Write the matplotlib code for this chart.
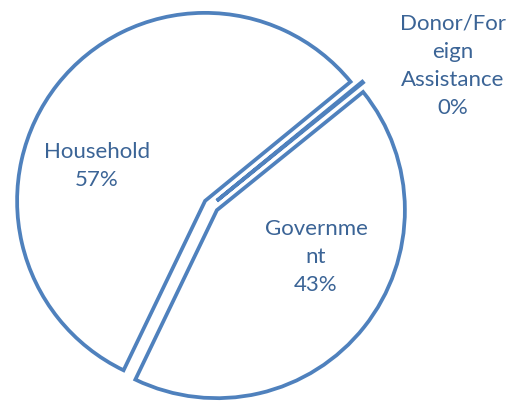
import matplotlib
matplotlib.use('Agg')
import matplotlib.pyplot as plt

# data
labels = ['Household', 'Donor/Foreign Assistance', 'Government']
values = [57, 0.1, 43]
# wrapped label text as shown in the chart
label_text = ['Household', 'Donor/For\neign\nAssistance', 'Governme\nnt']

W, H = 521, 401
edge_color = '#4F81BD'
text_color = '#3B6496'

plt.rcParams['font.family'] = ['Lato', 'DejaVu Sans']

fig = plt.figure(figsize=(W / 100, H / 100), dpi=100)
ax = fig.add_axes([0, 0, 1, 1])

radius = 188
center = (211, H - 205.5)
# explode offsets are in data units (pixels here)
ax.pie(values, radius=radius, center=center, explode=[7.5, 7.5, 7.5],
       startangle=244.3, counterclock=False,
       colors=['white'] * 3,
       wedgeprops=dict(edgecolor=edge_color, linewidth=2.7, joinstyle='miter'))

ax.set_xlim(0, W)
ax.set_ylim(0, H)
ax.set_aspect('equal')
ax.axis('off')

total = sum(values)
label_pos = [(97, 166), (453, 66), (316, 257)]
for txt, v, (x, y) in zip(label_text, values, label_pos):
    pct = f'{round(100 * v / total)}%'
    ax.text(x, H - y, f'{txt}\n{pct}', ha='center', va='center',
            color=text_color, fontsize=16, linespacing=1.5)

fig.savefig('out.png', dpi=100)
